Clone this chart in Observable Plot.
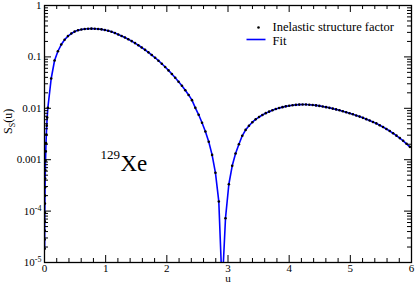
<!DOCTYPE html>
<html><head><meta charset="utf-8">
<script src="https://cdn.jsdelivr.net/npm/d3@7"></script>
<script src="https://cdn.jsdelivr.net/npm/@observablehq/plot@0.6"></script>
<style>html,body{margin:0;padding:0;background:#fff}svg{display:block}svg text{font-family:'Liberation Serif','Times New Roman',serif}</style>
</head><body>
<script>
// momentum variable u
const uVals = [0.00232,0.00286,0.0035,0.00429,0.00523,0.00639,0.00764,0.00919,0.0112,0.01345,0.01664,0.0206,0.0247,0.0301,0.0366,0.0439,
0.0548,0.1096,0.1644,0.2192,0.274,0.3288,0.3836,0.4384,0.4932,0.548,0.6028,0.6576,0.7124,0.7672,0.822,0.8768,0.9316,0.9864,
1.0412,1.096,1.1508,1.2056,1.2604,1.3152,1.37,1.4248,1.4796,1.5344,1.5892,1.644,1.6988,1.7536,1.8084,1.8632,1.918,1.9728,
2.0276,2.0824,2.1372,2.192,2.2468,2.3016,2.3564,2.4112,2.466,2.5208,2.5756,2.6304,2.6852,2.74,2.7948,2.8496,2.9044,2.9592,
3.014,3.0688,3.1236,3.1784,3.2332,3.288,3.3428,3.3976,3.4524,3.5072,3.562,3.6168,3.6716,3.7264,3.7812,3.836,3.8908,3.9456,
4.0004,4.0552,4.11,4.1648,4.2196,4.2744,4.3292,4.384,4.4388,4.4936,4.5484,4.6032,4.658,4.7128,4.7676,4.8224,4.8772,4.932,4.9868,
5.0416,5.0964,5.1512,5.206,5.2608,5.3156,5.3704,5.4252,5.48,5.5348,5.5896,5.6444,5.6992,5.754,5.8088,5.8636,5.9184,5.9732];
// inelastic structure factor S_S(u)
const sVals = [1.85e-5,2.8e-5,4.2e-5,6.3e-5,9.4e-5,1.4e-4,2.0e-4,2.9e-4,4.3e-4,6.2e-4,9.5e-4,1.45e-3,2.1e-3,3.1e-3,4.6e-3,6.6e-3,
0.0102,0.0380,0.0851,0.1288,0.1738,0.2163,0.2541,0.2851,0.3105,0.3289,0.3420,0.3499,0.3540,0.3548,0.3540,0.3499,0.3436,0.3342,
0.3221,0.3076,0.2911,0.2735,0.2559,0.2382,0.2203,0.2028,0.1854,0.1687,0.1524,0.1371,0.1225,0.1089,0.0962,0.0843,0.0735,0.0635,
0.0546,0.0465,0.0393,0.0329,0.0274,0.0225,0.0182,0.0144,0.0102,0.00748,0.00522,0.00354,0.00223,0.00124,0.000556,0.000154,3.2e-6,7.28e-5,
0.000333,0.000760,0.00132,0.00200,0.00292,0.00380,0.00457,0.00537,0.00610,0.00676,0.00741,0.00804,0.00861,0.00916,0.00966,0.01012,0.01054,0.01091,
0.01122,0.01148,0.01167,0.01180,0.01186,0.01183,0.01175,0.01159,0.01138,0.01114,0.01086,0.01054,0.01021,0.00986,0.00951,0.00914,0.00877,0.00839,0.00802,
0.00764,0.00726,0.00689,0.00652,0.00615,0.00579,0.00543,0.00508,0.00468,0.00432,0.00396,0.00361,0.00327,0.00294,0.00263,0.00233,0.00204,0.00178];

const xMajor = [0,1,2,3,4,5,6];
const xMajorLabels = ["0","1","2","3","4","5","6"];
const yMajor = [1e-5,1e-4,1e-3,1e-2,1e-1,1];
const yMajorLabels = ["10^-5","10^-4","0.001","0.01","0.1","1"];
const legendLabels = ["Inelastic structure factor","Fit"];
const isotopeMass = "129";
const isotopeSymbol = "Xe";
const xLabel = "u";
const yLabel = "S(u)";

const data = uVals.map((u, i) => ({u, s: sVals[i]}));
const xMinor = d3.range(0, 6.0001, 0.2).filter(v => Math.abs(v - Math.round(v)) > 1e-6);
const yMinor = yMajor.slice(0, -1).flatMap(d => d3.range(2, 10).map(m => d * m));

const W = 415, H = 284, mL = 44, mR = 4, mT = 5, mB = 22;
const iw = W - mL - mR, ih = H - mT - mB;
const majorLen = 7, minorLen = 4;
const FONT = "'Liberation Serif','Times New Roman',serif";

const lineSymbol = { draw(ctx, size) { ctx.moveTo(-9.5, 0); ctx.lineTo(9.5, 0); } };

const svg = Plot.plot({
  width: W, height: H,
  marginLeft: mL, marginRight: mR, marginTop: mT, marginBottom: mB,
  style: `font-family:${FONT};font-size:11px;background:#fff;color:#000;overflow:visible;`,
  x: {domain: [0, 6]},
  y: {type: "log", domain: [1e-5, 1]},
  marks: [
    Plot.line(data, {x: "u", y: "s", stroke: "#0000ff", strokeWidth: 1.6, clip: true}),
    Plot.dot(data, {x: "u", y: "s", r: 1.3, fill: "#000", stroke: "none", clip: true}),
    // ticks (inward, on all four sides)
    Plot.ruleX(xMajor, {insetTop: ih - majorLen, stroke: "#000"}),
    Plot.ruleX(xMinor, {insetTop: ih - minorLen, stroke: "#000"}),
    Plot.ruleX(xMajor, {insetBottom: ih - majorLen, stroke: "#000"}),
    Plot.ruleX(xMinor, {insetBottom: ih - minorLen, stroke: "#000"}),
    Plot.ruleY(yMajor, {insetRight: iw - majorLen, stroke: "#000"}),
    Plot.ruleY(yMinor, {insetRight: iw - minorLen, stroke: "#000"}),
    Plot.ruleY(yMajor, {insetLeft: iw - majorLen, stroke: "#000"}),
    Plot.ruleY(yMinor, {insetLeft: iw - minorLen, stroke: "#000"}),
    Plot.frame({stroke: "#000", strokeWidth: 1.3}),
    Plot.axisX({ticks: xMajor, tickSize: 0, tickPadding: 2, tickFormat: d => xMajorLabels[xMajor.indexOf(d)], label: null, fontSize: 11}),
    Plot.axisY({ticks: yMajor, tickSize: 0, tickPadding: 3, tickFormat: d => yMajorLabels[yMajor.indexOf(d)], label: null, fontSize: 11}),
    // axis titles
    Plot.text([xLabel], {text: d => d, frameAnchor: "bottom", dy: 15.5, fontSize: 11, lineAnchor: "middle"}),
    Plot.text([yLabel], {text: d => d, frameAnchor: "left", dx: -36, rotate: -90, fontSize: 12, lineAnchor: "middle"}),
    // legend
    Plot.dot([legendLabels[0]], {frameAnchor: "top-left", dx: 214, dy: 22, r: 1.3, fill: "#000", stroke: "none"}),
    Plot.text([legendLabels[0]], {text: d => d, frameAnchor: "top-left", dx: 228, dy: 21.5, textAnchor: "start", lineAnchor: "middle", fontSize: 12.5}),
    Plot.dot([legendLabels[1]], {frameAnchor: "top-left", dx: 211.5, dy: 34, symbol: lineSymbol, r: 5, stroke: "#0000ff", strokeWidth: 1.6, fill: "none"}),
    Plot.text([legendLabels[1]], {text: d => d, frameAnchor: "top-left", dx: 228, dy: 35.5, textAnchor: "start", lineAnchor: "middle", fontSize: 12.5}),
    // isotope annotation
    Plot.text([isotopeMass], {text: d => d, frameAnchor: "top-left", dx: 56, dy: 149, textAnchor: "start", lineAnchor: "middle", fontSize: 13}),
    Plot.text([isotopeSymbol], {text: d => d, frameAnchor: "top-left", dx: 76, dy: 158, textAnchor: "start", lineAnchor: "middle", fontSize: 23})
  ]
});

svg.setAttribute("font-family", FONT);

// superscript exponents on the y tick labels, subscript on the axis title
svg.querySelectorAll("text").forEach(t => {
  const s = t.textContent;
  if (/^10\^/.test(s)) {
    const exp = s.slice(3);
    t.textContent = "10";
    const ts = document.createElementNS("http://www.w3.org/2000/svg", "tspan");
    ts.setAttribute("dy", "-4");
    ts.setAttribute("font-size", "8");
    ts.textContent = exp;
    t.appendChild(ts);
  } else if (s === yLabel) {
    t.textContent = "";
    const mk = (txt, attrs) => { const e = document.createElementNS("http://www.w3.org/2000/svg", "tspan"); for (const k in attrs) e.setAttribute(k, attrs[k]); e.textContent = txt; t.appendChild(e); };
    mk("S", {});
    mk("S", {"font-size": "8", dy: "3"});
    mk("(u)", {dy: "-3"});
  }
});
document.body.appendChild(svg);
</script>
</body></html>
